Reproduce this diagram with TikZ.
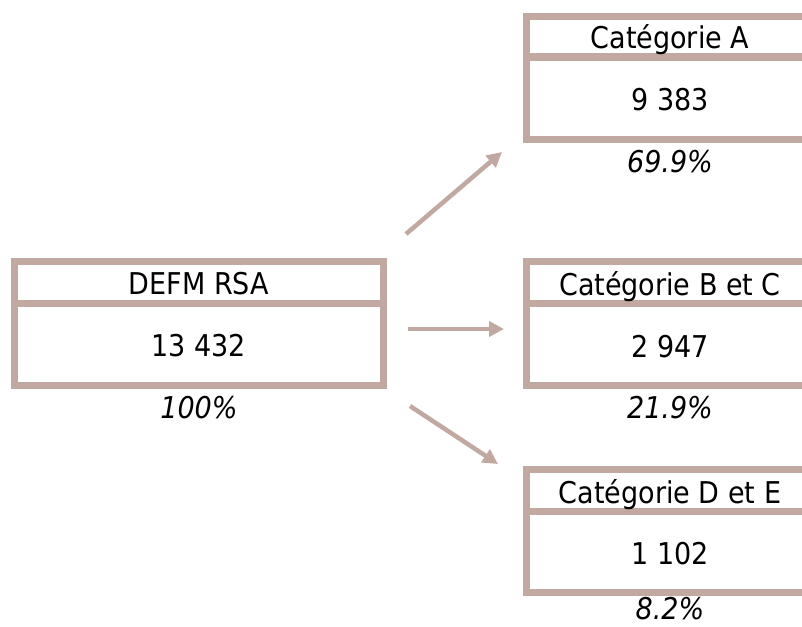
\documentclass[tikz,border=0pt]{standalone}
\usepackage{fontspec}
\setmainfont{DejaVu Sans Condensed}
\usetikzlibrary{arrows.meta}
\definecolor{frame}{RGB}{193,168,160}
\tikzset{
  boxframe/.style={draw=frame, line width=7pt, rectangle, inner sep=0pt},
  divider/.style={draw=frame, line width=7pt},
  txt/.style={font=\fontsize{30}{36}\selectfont, inner sep=0pt, text=black, anchor=base},
  pct/.style={font=\fontsize{30}{36}\selectfont\itshape, inner sep=0pt, text=black, anchor=base},
  arr/.style={draw=frame, line width=4.5pt, -{Triangle[length=15pt,width=15pt]}}
}
\begin{document}
\begin{tikzpicture}[x=1pt,y=-1pt]
\useasboundingbox (0,0) rectangle (802,626);
\clip (0,0) rectangle (802,626);
% left box
\node[boxframe, minimum width=369pt, minimum height=124pt] (L) at (199,323.5) {};
\draw[divider] (L.west |- 0,303) -- (L.east |- 0,303);
\node[txt] (Lt) at (199,294.5) {DEFM RSA};
\node[txt] (Ln) at (199,356.5) {13 432};
\node[pct] (Lp) at (199,418) {100\%};
% box A
\node[boxframe, minimum width=287pt, minimum height=123pt] (A) at (670,78) {};
\draw[divider] (A.west |- 0,57) -- (A.east |- 0,57);
\node[txt] (At) at (670,48.5) {Catégorie A};
\node[txt] (An) at (670,110.5) {9 383};
\node[pct] (Ap) at (670,172) {69.9\%};
% box B
\node[boxframe, minimum width=287pt, minimum height=124pt] (B) at (670,323.5) {};
\draw[divider] (B.west |- 0,303.5) -- (B.east |- 0,303.5);
\node[txt] (Bt) at (670,295) {Catégorie B et C};
\node[txt] (Bn) at (670,357) {2 947};
\node[pct] (Bp) at (670,418) {21.9\%};
% box D
\node[boxframe, minimum width=287pt, minimum height=123pt] (D) at (670,531) {};
\draw[divider] (D.west |- 0,511.5) -- (D.east |- 0,511.5);
\node[txt] (Dt) at (670,503) {Catégorie D et E};
\node[txt] (Dn) at (670,564) {1 102};
\node[pct] (Dp) at (670,619) {8.2\%};
% arrows
\coordinate (a1s) at (406,234);
\coordinate (a1e) at (502,152);
\coordinate (a2s) at (408,329);
\coordinate (a2e) at (504,329);
\coordinate (a3s) at (410,406);
\coordinate (a3e) at (498,464);
\draw[arr] (a1s) -- (a1e);
\draw[arr] (a2s) -- (a2e);
\draw[arr] (a3s) -- (a3e);
\end{tikzpicture}
\end{document}
